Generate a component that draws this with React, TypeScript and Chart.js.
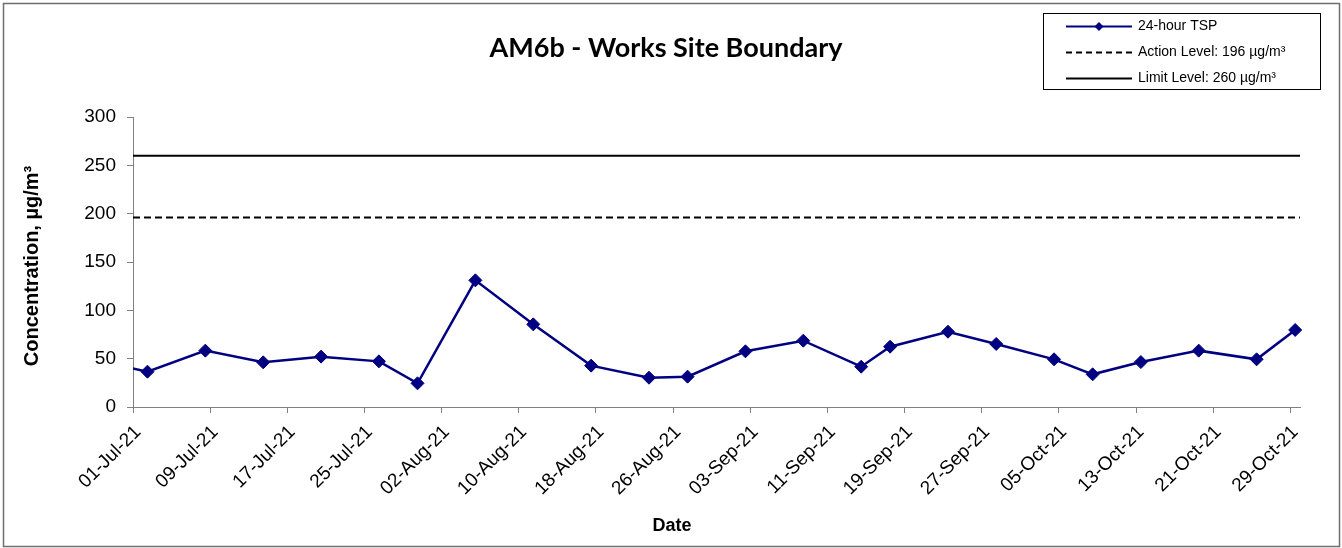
import React, { useEffect, useRef } from 'react';
import { Chart, registerables } from 'chart.js';

Chart.register(...registerables);

const W = 1342;
const H = 548;

// Sampling dates and 24-hour TSP values (µg/m³)
const sampleDates = [
  '26-Jun-21', '02-Jul-21', '08-Jul-21', '14-Jul-21', '20-Jul-21', '26-Jul-21', '30-Jul-21',
  '05-Aug-21', '11-Aug-21', '17-Aug-21', '23-Aug-21', '27-Aug-21',
  '02-Sep-21', '08-Sep-21', '14-Sep-21', '17-Sep-21', '23-Sep-21', '28-Sep-21',
  '04-Oct-21', '08-Oct-21', '13-Oct-21', '19-Oct-21', '25-Oct-21', '29-Oct-21',
];
const tspValues = [
  50, 36.5, 58.3, 46.2, 52.1, 47.2, 24.5,
  131, 85.5, 42.8, 30.3, 31.4,
  57.6, 68.6, 41.7, 62.4, 77.9, 65.2,
  49.3, 33.8, 46.5, 58.3, 49.3, 79.7,
];

const actionLevel = 196;
const limitLevel = 260;

const tickLabels = [
  '01-Jul-21', '09-Jul-21', '17-Jul-21', '25-Jul-21', '02-Aug-21', '10-Aug-21', '18-Aug-21',
  '26-Aug-21', '03-Sep-21', '11-Sep-21', '19-Sep-21', '27-Sep-21', '05-Oct-21', '13-Oct-21',
  '21-Oct-21', '29-Oct-21',
];
const axisStart = '01-Jul-21';
const axisEnd = '30-Oct-21';
const yTicks = [0, 50, 100, 150, 200, 250, 300];

const titleText = 'AM6b - Works Site Boundary';
const yTitle = 'Concentration, µg/m³';
const xTitle = 'Date';
const legendLabels = ['24-hour TSP', 'Action Level: 196 µg/m³', 'Limit Level: 260 µg/m³'];

const MONTHS: Record<string, number> = {
  Jan: 0, Feb: 1, Mar: 2, Apr: 3, May: 4, Jun: 5, Jul: 6, Aug: 7, Sep: 8, Oct: 9, Nov: 10, Dec: 11,
};
function parseDay(s: string): number {
  const [d, m, y] = s.split('-');
  return Date.UTC(2000 + Number(y), MONTHS[m], Number(d)) / 86400000;
}
const day0 = parseDay(axisStart);
const toX = (s: string) => parseDay(s) - day0;

const NAVY = '#000080';
const ARIAL = "'Liberation Sans', Arial, sans-serif";

const decorPlugin = {
  id: 'decor',
  afterDraw(chart: any) {
    const ctx = chart.ctx as CanvasRenderingContext2D;
    ctx.save();
    // outer border
    ctx.strokeStyle = '#6e6e6e';
    ctx.lineWidth = 1.5;
    ctx.strokeRect(3.5, 3.5, 1336, 543);

    // title
    ctx.fillStyle = '#000';
    ctx.font = "bold 27px Lato, 'Open Sans', sans-serif";
    ctx.textAlign = 'center';
    ctx.textBaseline = 'alphabetic';
    ctx.fillText(titleText, 666, 57);

    // x title
    ctx.font = `bold 18px ${ARIAL}`;
    ctx.textBaseline = 'alphabetic';
    ctx.fillText(xTitle, 672, 531);

    // y title
    ctx.save();
    ctx.translate(38, 266);
    ctx.rotate(-Math.PI / 2);
    ctx.font = `bold 20px ${ARIAL}`;
    ctx.textAlign = 'center';
    ctx.textBaseline = 'alphabetic';
    ctx.fillText(yTitle, 0, 0);
    ctx.restore();

    // legend
    ctx.strokeStyle = '#000';
    ctx.lineWidth = 1;
    ctx.strokeRect(1043.5, 13.5, 277, 76);
    const rows = [26.5, 52.5, 78.5];
    const lx0 = 1066;
    const lx1 = 1132;
    // row 1: navy line with diamond
    ctx.strokeStyle = NAVY;
    ctx.lineWidth = 2;
    ctx.setLineDash([]);
    ctx.beginPath();
    ctx.moveTo(lx0, rows[0]);
    ctx.lineTo(lx1, rows[0]);
    ctx.stroke();
    ctx.fillStyle = NAVY;
    ctx.beginPath();
    const cx = (lx0 + lx1) / 2;
    ctx.moveTo(cx - 4.5, rows[0]);
    ctx.lineTo(cx, rows[0] - 4.5);
    ctx.lineTo(cx + 4.5, rows[0]);
    ctx.lineTo(cx, rows[0] + 4.5);
    ctx.closePath();
    ctx.fill();
    // row 2: dashed
    ctx.strokeStyle = '#000';
    ctx.lineWidth = 2;
    ctx.setLineDash([6, 4]);
    ctx.beginPath();
    ctx.moveTo(lx0, rows[1]);
    ctx.lineTo(lx1, rows[1]);
    ctx.stroke();
    // row 3: solid
    ctx.setLineDash([]);
    ctx.beginPath();
    ctx.moveTo(lx0, rows[2]);
    ctx.lineTo(lx1, rows[2]);
    ctx.stroke();
    ctx.fillStyle = '#000';
    ctx.font = `14px ${ARIAL}`;
    ctx.textAlign = 'left';
    ctx.textBaseline = 'middle';
    legendLabels.forEach((t, i) => ctx.fillText(t, 1138, rows[i]));
    ctx.restore();
  },
};

export default function App() {
  const ref = useRef<HTMLCanvasElement | null>(null);

  useEffect(() => {
    document.body.style.margin = '0';
    const canvas = ref.current;
    if (!canvas) return;
    const xMin = 0;
    const xMax = toX(axisEnd);
    const tickVals = tickLabels.map(toX);
    const labelFor = new Map<number, string>();
    tickVals.forEach((v, i) => labelFor.set(v, tickLabels[i]));

    const tspData = sampleDates.map((d, i) => ({ x: toX(d) + 0.5, y: tspValues[i] }));

    const chart = new Chart(canvas, {
      type: 'line',
      data: {
        datasets: [
          {
            label: legendLabels[0],
            data: tspData,
            borderColor: NAVY,
            backgroundColor: NAVY,
            borderWidth: 2.5,
            pointStyle: 'rectRot',
            pointRadius: 6.5,
            pointBorderWidth: 1,
            pointBackgroundColor: NAVY,
            pointBorderColor: NAVY,
            tension: 0,
            clip: { left: 0, top: 20, right: 20, bottom: 20 } as any,
          },
          {
            label: legendLabels[1],
            data: [{ x: xMin, y: actionLevel }, { x: xMax, y: actionLevel }],
            borderColor: '#000',
            borderWidth: 2,
            borderDash: [7, 4],
            pointRadius: 0,
          },
          {
            label: legendLabels[2],
            data: [{ x: xMin, y: limitLevel }, { x: xMax, y: limitLevel }],
            borderColor: '#000',
            borderWidth: 2,
            pointRadius: 0,
          },
        ],
      },
      options: {
        responsive: false,
        animation: false,
        devicePixelRatio: 1,
        layout: { padding: { top: 117, right: 42, left: 0, bottom: 0 } },
        plugins: {
          legend: { display: false },
          title: { display: false },
          tooltip: { enabled: false },
        },
        scales: {
          x: {
            type: 'linear',
            min: xMin,
            max: xMax,
            afterBuildTicks: (scale: any) => {
              scale.ticks = tickVals.map((v) => ({ value: v }));
            },
            afterFit: (scale: any) => {
              scale.height = H - 407;
            },
            ticks: {
              autoSkip: false,
              minRotation: 45,
              maxRotation: 45,
              padding: 8,
              labelOffset: 5,
              color: '#000',
              font: { family: ARIAL, size: 19 },
              callback: (v: any) => labelFor.get(Number(v)) ?? '',
            },
            grid: { drawOnChartArea: false, drawTicks: true, tickLength: 6, color: '#808080' },
            border: { color: '#808080', width: 1 },
          },
          y: {
            type: 'linear',
            min: 0,
            max: 300,
            afterBuildTicks: (scale: any) => {
              scale.ticks = yTicks.map((v) => ({ value: v }));
            },
            afterFit: (scale: any) => {
              scale.width = 133;
            },
            ticks: {
              padding: 11,
              color: '#000',
              font: { family: ARIAL, size: 19 },
            },
            grid: { drawOnChartArea: false, drawTicks: true, tickLength: 6, color: '#808080' },
            border: { color: '#808080', width: 1 },
          },
        },
      },
      plugins: [decorPlugin],
    });
    return () => chart.destroy();
  }, []);

  return (
    <div style={{ position: 'absolute', left: 0, top: 0, width: W, height: H, background: '#fff' }}>
      <canvas ref={ref} width={W} height={H} style={{ display: 'block', width: W, height: H }} />
    </div>
  );
}
